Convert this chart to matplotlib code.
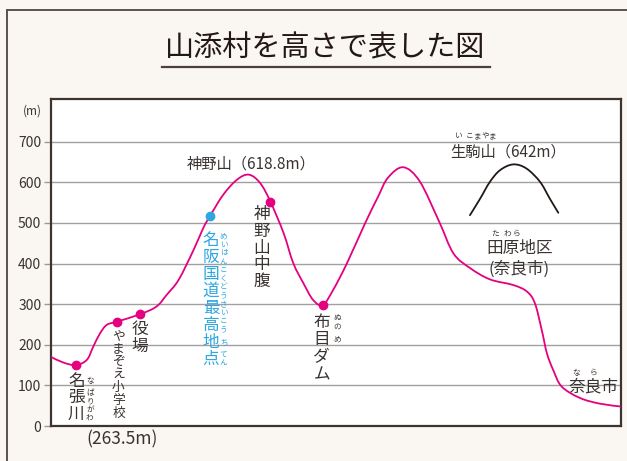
import matplotlib
matplotlib.use('Agg')
import matplotlib.pyplot as plt
from matplotlib.transforms import offset_copy
from matplotlib.lines import Line2D
from matplotlib.path import Path
from matplotlib.patches import PathPatch

plt.rcParams['font.family'] = ['Noto Sans CJK JP', 'DejaVu Sans']

# ---------------- data ----------------
# distance along the profile (arbitrary units 0-100) and elevation (m)
dist = [0.0, 2.2, 4.4, 6.3, 7.4, 8.6, 9.8, 11.6, 15.6, 18.5, 20.3, 22.4,
        25.0, 26.7, 27.9, 30.2, 32.6, 34.7, 36.7, 38.5, 40.8, 42.5, 44.3,
        46.0, 47.7, 49.5, 51.9, 55.1, 57.4, 59.1, 61.8, 64.7, 68.1, 70.6,
        73.5, 77.0, 81.1, 83.5, 84.9, 86.1, 87.0, 88.1, 89.6, 92.8, 96.3, 100.0]
elev = [170, 156, 150, 163, 195, 228, 249, 257, 275, 294, 323, 360,
        433, 487, 517, 569, 606, 618.8, 598, 552, 475, 401, 351,
        310, 298, 335, 400, 499, 565, 611, 637, 602, 503, 425,
        389, 361, 347, 331, 302, 236, 179, 138, 97, 69, 55, 48]

# marked places (pink) and the pass (blue)
mark_dist = [4.4, 11.6, 15.6, 38.5, 47.7]
mark_elev = [150, 257, 275, 552, 298]
pass_dist = [27.9]
pass_elev = [517]

# illustrative silhouette of Mt. Ikoma
ikoma_dist = [73.5, 75.3, 77.0, 78.8, 81.1, 83.4, 85.8, 87.5, 89.0]
ikoma_elev = [519, 560, 601, 630, 644, 634, 601, 560, 525]

yticks = [0, 100, 200, 300, 400, 500, 600, 700]
ytick_labels = ['0', '100', '200', '300', '400', '500', '600', '700']

PINK = '#e4007f'
BLUE = '#2ea7e0'
TXT = '#3a3330'

# ---------------- figure ----------------
W, H = 627, 461
fig = plt.figure(figsize=(W / 100, H / 100), dpi=100, facecolor='#faf7f3')

# outer frame (open to right/bottom)
fig.add_artist(Line2D([7 / W, 7 / W], [0, 1 - 10 / H], transform=fig.transFigure,
                      color='#5b514d', lw=1.4))
fig.add_artist(Line2D([7 / W, 1], [1 - 10 / H, 1 - 10 / H], transform=fig.transFigure,
                      color='#5b514d', lw=1.4))

# title + underline
fig.text(325 / W, 1 - 48 / H, '山添村を高さで表した図', ha='center', va='center',
         fontsize=21, color='#231815')
fig.add_artist(Line2D([162 / W, 490 / W], [1 - 67 / H, 1 - 67 / H],
                      transform=fig.transFigure, color='#4b403c', lw=1.6))

ax = fig.add_axes([51 / W, 1 - 426 / H, 570 / W, 327 / H])
ax.set_facecolor('white')
ax.set_xlim(0, 100)
ax.set_ylim(0, 805)

for s in ax.spines.values():
    s.set_color('#3d3431')
    s.set_linewidth(1.6)

ax.set_yticks(yticks)
ax.set_yticklabels(ytick_labels)
ax.set_xticks([])
ax.tick_params(axis='y', direction='out', length=5, width=1, color='#9a9a9a',
               pad=2, labelsize=10, labelcolor=TXT)
ax.grid(axis='y', color='#a0a0a0', lw=1)
ax.set_axisbelow(True)

fig.text(32 / W, 1 - 111 / H, '(m)', ha='center', va='center', fontsize=8.5, color=TXT)


def smooth_line(xs, ys, color, lw):
    """draw a smooth (Catmull-Rom as cubic Bezier) line through the data points"""
    n = len(xs)
    P = list(zip(xs, ys))
    verts = [P[0]]
    codes = [Path.MOVETO]
    for i in range(n - 1):
        p0 = P[i - 1] if i > 0 else P[i]
        p1, p2 = P[i], P[i + 1]
        p3 = P[i + 2] if i + 2 < n else P[i + 1]
        c1 = (p1[0] + (p2[0] - p0[0]) / 6, p1[1] + (p2[1] - p0[1]) / 6)
        c2 = (p2[0] - (p3[0] - p1[0]) / 6, p2[1] - (p3[1] - p1[1]) / 6)
        verts += [c1, c2, p2]
        codes += [Path.CURVE4] * 3
    ax.add_patch(PathPatch(Path(verts, codes), facecolor='none', edgecolor=color,
                           lw=lw, zorder=3, capstyle='round', joinstyle='round'))


# profile
smooth_line(dist, elev, PINK, 1.3)
ax.plot(mark_dist, mark_elev, 'o', color=PINK, ms=6, zorder=4)
ax.plot(pass_dist, pass_elev, 'o', color=BLUE, ms=6, zorder=4)
smooth_line(ikoma_dist, ikoma_elev, '#231815', 1.3)


# ---------------- label helpers ----------------
def vtext(x, y, s, size, pitch, color=TXT):
    """vertical text: first char centred at (x, y) in data; pitch in pixels"""
    for i, ch in enumerate(s):
        tr = offset_copy(ax.transData, fig=fig, x=0, y=-i * pitch, units='dots')
        ax.text(x, y, ch, transform=tr, ha='center', va='center', fontsize=size,
                color=color, clip_on=False, zorder=5)


def vruby(x, y, groups, pitch, dx, size=5.5, rp=8.5, color=TXT):
    """vertical furigana beside vertical text. groups: list of (n_kanji, kana)"""
    k = 0
    for n, kana in groups:
        centre = (k + (n - 1) / 2) * pitch
        p = min(rp, n * pitch / max(len(kana), 1))
        start = centre - (len(kana) - 1) / 2 * p
        for j, ch in enumerate(kana):
            tr = offset_copy(ax.transData, fig=fig, x=dx, y=-(start + j * p), units='dots')
            ax.text(x, y, ch, transform=tr, ha='center', va='center', fontsize=size,
                    color=color, clip_on=False, zorder=5)
        k += n


def hruby(x, y, groups, pitch, dy, size=5.5, rp=8.5, color=TXT):
    """horizontal furigana above text whose first char is centred at (x, y)"""
    k = 0
    for n, kana in groups:
        centre = (k + (n - 1) / 2) * pitch
        p = min(rp, n * pitch / max(len(kana), 1))
        start = centre - (len(kana) - 1) / 2 * p
        for j, ch in enumerate(kana):
            tr = offset_copy(ax.transData, fig=fig, x=start + j * p, y=dy, units='dots')
            ax.text(x, y, ch, transform=tr, ha='center', va='center', fontsize=size,
                    color=color, clip_on=False, zorder=5)
        k += n


# ---------------- labels ----------------
vtext(4.45, 110.8, '名張川', 12, 16.5)
vruby(4.45, 110.8, [(1, 'な'), (1, 'ばり'), (1, 'がわ')], 16.5, 13.5)
ax.text(12.5, -34, '(263.5m)', ha='center', va='center', fontsize=12.5, color=TXT,
        clip_on=False)

vtext(11.84, 222.0, 'やまぞえ小学校', 9.2, 13.0)
vtext(15.53, 238.8, '役場', 12, 17)

vtext(28.07, 456.6, '名阪国道最高地点', 12, 16.95, color=BLUE)
vruby(28.07, 456.6, [(2, 'めいはん'), (2, 'こくどう'), (2, 'さいこう'), (1, 'ち'), (1, 'てん')],
      16.95, 12.5, color=BLUE)

vtext(36.95, 520.6, '神野山中腹', 12, 16.8)

vtext(47.5, 254.8, '布目ダム', 12, 17.5)
vruby(47.5, 254.8, [(1, 'ぬの'), (1, 'め')], 17.5, 15.5)

ax.text(23.9, 645, '神野山（618.8m）', ha='left', va='center', fontsize=11, color=TXT)

ax.text(70.0, 674.5, '生駒山（642m）', ha='left', va='center', fontsize=11, color=TXT)
hruby(71.4, 674.5, [(1, 'い'), (1, 'こま'), (1, 'やま')], 15.5, 16)

ax.text(82.3, 438, '田原地区', ha='center', va='center', fontsize=12, color=TXT)
hruby(82.3 - 1.5 * 16.6 / 5.7, 438, [(1, 'た'), (1, 'わら')], 16.6, 14.5)
ax.text(82.2, 386, '(奈良市)', ha='center', va='center', fontsize=12, color=TXT)

ax.text(95.1, 96, '奈良市', ha='center', va='center', fontsize=12, color=TXT, zorder=5)
hruby(95.1 - 16.6 / 5.7, 96, [(1, 'な'), (1, 'ら')], 16.6, 14)

fig.savefig('out.png', dpi=100, facecolor=fig.get_facecolor())
